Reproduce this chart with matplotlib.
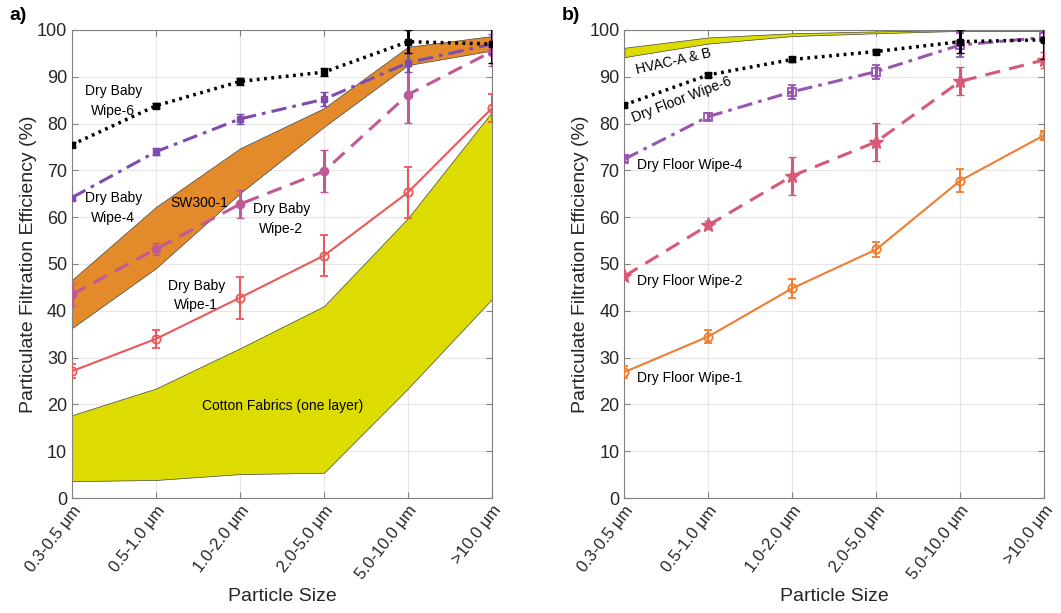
import matplotlib.pyplot as plt
import numpy as np

plt.rcParams["font.family"] = ["Liberation Sans", "DejaVu Sans"]

sizes = ["0.3-0.5 \u03bcm", "0.5-1.0 \u03bcm", "1.0-2.0 \u03bcm",
         "2.0-5.0 \u03bcm", "5.0-10.0 \u03bcm", ">10.0 \u03bcm"]

# panel a) baby wipes
baby6 = [75.5, 83.8, 89.0, 91.0, 97.5, 97.0]
baby6_err = [0.6, 0.5, 0.7, 0.8, 2.5, 4.0]
baby4 = [64.2, 74.0, 81.0, 85.2, 93.0, 97.0]
baby4_err = [0.6, 0.8, 1.0, 1.5, 2.0, 2.2]
baby2 = [43.5, 53.2, 62.8, 69.8, 86.2, 95.4]
baby2_err = [2.5, 1.3, 3.0, 4.5, 6.0, 3.0]
baby1 = [27.1, 34.0, 42.8, 51.8, 65.3, 83.3]
baby1_err = [1.5, 2.0, 4.5, 4.3, 5.5, 3.0]
sw300_hi = [46.6, 62.2, 74.7, 83.3, 96.4, 98.7]
sw300_lo = [36.3, 49.1, 65.1, 79.3, 92.5, 95.6]
cotton_hi = [17.7, 23.4, 32.0, 41.0, 59.8, 82.5]
cotton_lo = [3.6, 3.85, 5.1, 5.4, 23.4, 42.5]

# panel b) floor wipes
floor6 = [84.0, 90.4, 93.7, 95.4, 97.5, 97.9]
floor6_err = [0.4, 0.4, 0.6, 0.6, 2.5, 4.0]
floor4 = [72.4, 81.5, 86.8, 91.1, 96.8, 98.4]
floor4_err = [0.7, 0.7, 1.5, 1.5, 2.5, 1.0]
floor2 = [47.4, 58.3, 68.8, 76.1, 89.0, 93.6]
floor2_err = [0.5, 0.8, 4.0, 4.0, 3.0, 1.8]
floor1 = [26.9, 34.5, 44.8, 53.1, 67.8, 77.5]
floor1_err = [1.2, 1.3, 2.0, 1.5, 2.5, 1.0]
hvac_hi = [96.2, 98.4, 99.3, 99.7, 100.0, 100.0]
hvac_lo = [94.2, 97.1, 98.7, 99.3, 99.8, 99.8]

x = np.arange(len(sizes))

c_orange_band = "#E38A2A"
c_yellow = "#DCDC00"
c_purple = "#7E4BAF"
c_pink = "#C05A96"
c_red = "#E85A5A"
c_purple2 = "#9A55B0"
c_rose = "#D65A78"
c_orange = "#EE7D30"

fig = plt.figure(figsize=(10.61, 6.13), dpi=100)
ax1 = fig.add_axes([0.0679, 0.1876, 0.3958, 0.7635])
ax2 = fig.add_axes([0.5885, 0.1876, 0.3955, 0.7635])

# ---- a) ----
ax1.fill_between(x, cotton_lo, cotton_hi, facecolor=c_yellow, edgecolor="#444444",
                 linewidth=0.5, zorder=1)
ax1.fill_between(x, sw300_lo, sw300_hi, facecolor=c_orange_band, edgecolor="#444444",
                 linewidth=0.5, zorder=1)
ax1.errorbar(x, baby1, yerr=baby1_err, color=c_red, lw=1.5, marker="o", ms=6,
             mfc="none", mew=1.3, capsize=3, elinewidth=1.5, zorder=3)
ax1.errorbar(x, baby2, yerr=baby2_err, color=c_pink, lw=2.2, ls=(0, (5, 3)),
             marker="o", ms=6, capsize=3, elinewidth=2.2, zorder=3)
ax1.errorbar(x, baby4, yerr=baby4_err, color=c_purple, lw=2.2, ls=(0, (5, 2, 1.2, 2)),
             marker="s", ms=5, capsize=3, elinewidth=2.2, zorder=4)
ax1.errorbar(x, baby6, yerr=baby6_err, color="black", lw=2.5, ls=(0, (0.8, 1.3)),
             marker="s", ms=5, capsize=3, elinewidth=2.2, zorder=5)

ax1.text(0.49, 84.8, "Dry Baby\nWipe-6", ha="center", va="center", fontsize=10,
         linespacing=1.5)
ax1.text(0.49, 62.0, "Dry Baby\nWipe-4", ha="center", va="center", fontsize=10,
         linespacing=1.5)
ax1.text(1.51, 63.1, "SW300-1", ha="center", va="center", fontsize=10)
ax1.text(2.49, 59.6, "Dry Baby\nWipe-2", ha="center", va="center", fontsize=10,
         linespacing=1.5)
ax1.text(1.48, 43.3, "Dry Baby\nWipe-1", ha="center", va="center", fontsize=10,
         linespacing=1.5)
ax1.text(2.51, 19.7, "Cotton Fabrics (one layer)", ha="center", va="center",
         fontsize=10)

# ---- b) ----
ax2.fill_between(x, hvac_lo, hvac_hi, facecolor=c_yellow, edgecolor="#444444",
                 linewidth=0.5, zorder=1)
ax2.errorbar(x, floor1, yerr=floor1_err, color=c_orange, lw=1.5, marker="o", ms=6,
             mfc="none", mew=1.3, capsize=3, elinewidth=1.5, zorder=3)
ax2.errorbar(x, floor2, yerr=floor2_err, color=c_rose, lw=2.2, ls=(0, (5, 3)),
             marker="*", ms=11, capsize=3, elinewidth=2.2, zorder=3)
ax2.errorbar(x, floor4, yerr=floor4_err, color=c_purple2, lw=2.2, ls=(0, (5, 2, 1.2, 2)),
             marker="s", ms=6, mfc="none", mew=1.3, capsize=3, elinewidth=2.2, zorder=4)
ax2.errorbar(x, floor6, yerr=floor6_err, color="black", lw=2.5, ls=(0, (0.8, 1.3)),
             marker="s", ms=5, capsize=3, elinewidth=2.2, zorder=5)

ax2.text(0.58, 93.2, "HVAC-A & B", ha="center", va="center", fontsize=10,
         rotation=13)
ax2.text(0.68, 85.2, "Dry Floor Wipe-6", ha="center", va="center", fontsize=10,
         rotation=21)
ax2.text(0.155, 71.2, "Dry Floor Wipe-4", ha="left", va="center", fontsize=10)
ax2.text(0.155, 46.4, "Dry Floor Wipe-2", ha="left", va="center", fontsize=10)
ax2.text(0.155, 25.7, "Dry Floor Wipe-1", ha="left", va="center", fontsize=10)

for ax, tag in [(ax1, "a)"), (ax2, "b)")]:
    ax.set_xlim(0, 5)
    ax.set_ylim(0, 100)
    ax.set_yticks(np.arange(0, 101, 10))
    ax.set_xticks(x)
    ax.set_xticklabels(sizes, rotation=52, ha="right", rotation_mode="anchor",
                       fontsize=12)
    ax.tick_params(axis="y", labelsize=13)
    ax.tick_params(direction="in", top=True, right=True, length=4,
                   color="#808080", labelcolor="#262626")
    ax.grid(True, color="#E6E6E6", linewidth=0.8, zorder=0)
    ax.set_axisbelow(True)
    for s in ax.spines.values():
        s.set_color("#808080")
        s.set_linewidth(0.8)
    ax.set_xlabel("Particle Size", fontsize=14, color="#262626")
    ax.set_ylabel("Particulate Filtration Efficiency (%)", fontsize=14,
                  color="#262626", labelpad=0)
    ax.text(-0.15, 1.03, tag, transform=ax.transAxes, fontsize=14,
            fontweight="bold", ha="left", va="center")

fig.savefig("out.png", dpi=100)
